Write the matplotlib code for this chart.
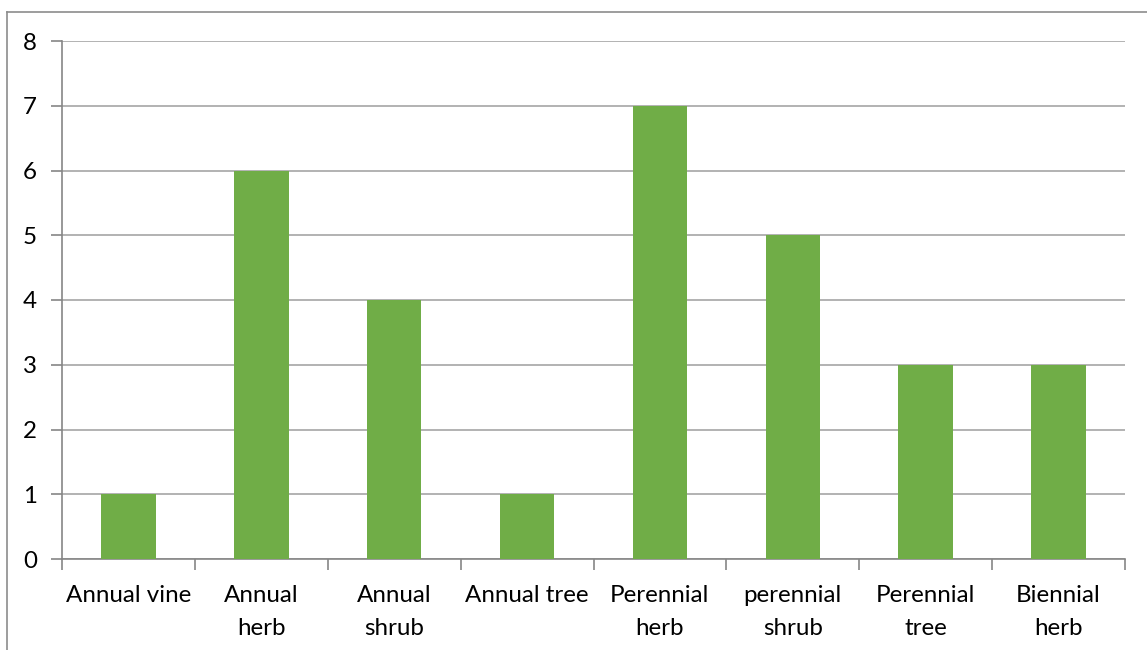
import matplotlib
matplotlib.use("Agg")
import matplotlib.pyplot as plt
from matplotlib.lines import Line2D

categories = ["Annual vine", "Annual\nherb", "Annual\nshrub", "Annual tree",
              "Perennial\nherb", "perennial\nshrub", "Perennial\ntree", "Biennial\nherb"]
counts = [1, 6, 4, 1, 7, 5, 3, 3]
y_ticks = [0, 1, 2, 3, 4, 5, 6, 7, 8]

plt.rcParams["font.family"] = ["Lato", "DejaVu Sans"]

fig = plt.figure(figsize=(11.47, 6.5), dpi=100)
ax = fig.add_axes([62 / 1147, 1 - 559 / 650, (1125 - 62) / 1147, (559 - 41) / 650])

axis_col = "#868686"
grid_col = "#a6a6a6"

x = list(range(len(categories)))
ax.bar(x, counts, width=0.41, color="#70AD47", zorder=3)

ax.set_xlim(-0.5, len(categories) - 0.5)
ax.set_ylim(0, 8)
ax.set_yticks(y_ticks)
ax.yaxis.grid(True, color=grid_col, linewidth=1.2, zorder=0)

# category labels centred, tick marks on the boundaries between categories
ax.set_xticks(x)
ax.set_xticklabels(categories, fontsize=17.4, color="#000000", linespacing=1.7)
ax.tick_params(axis="x", which="major", length=0, pad=18.5)
ax.set_xticks([i - 0.5 for i in range(len(categories) + 1)], minor=True)
ax.tick_params(axis="x", which="minor", length=8, width=1.2, color=axis_col)
ax.tick_params(axis="y", length=8, width=1.2, color=axis_col, labelsize=17.4, pad=10)

for side in ["top", "right"]:
    ax.spines[side].set_visible(False)
for side in ["left", "bottom"]:
    ax.spines[side].set_color(axis_col)
    ax.spines[side].set_linewidth(1.2)

# chart-area frame
fig.add_artist(Line2D([7 / 1147, 7 / 1147], [0, 1 - 12 / 650], transform=fig.transFigure,
                      color="#8c8c8c", linewidth=1.2))
fig.add_artist(Line2D([7 / 1147, 1], [1 - 12 / 650, 1 - 12 / 650], transform=fig.transFigure,
                      color="#8c8c8c", linewidth=1.2))

fig.savefig("out.png", dpi=100)
